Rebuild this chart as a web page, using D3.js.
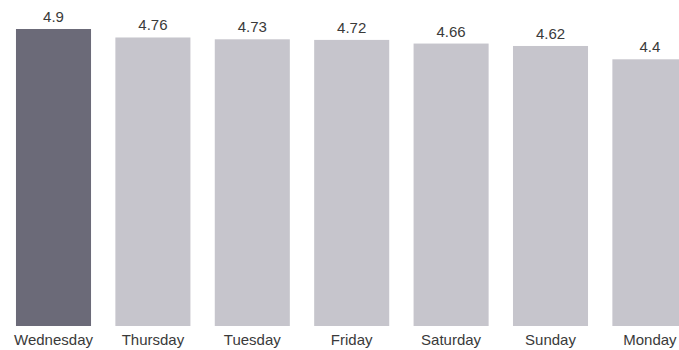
<!DOCTYPE html>
<html>
<head>
<meta charset="utf-8">
<script src="https://cdn.jsdelivr.net/npm/d3@7"></script>
<style>
  html, body { margin: 0; padding: 0; background: #fff; overflow: hidden; }
  svg { display: block; }
  text { font-family: "Liberation Sans", Arial, Helvetica, sans-serif; fill: #3a3a3a; }
</style>
</head>
<body>
<svg id="chart" width="679" height="350"></svg>
<script>
// Average rating by weekday, sorted from highest to lowest
const days = ["Wednesday", "Thursday", "Tuesday", "Friday", "Saturday", "Sunday", "Monday"];
const ratings = [4.9, 4.76, 4.73, 4.72, 4.66, 4.62, 4.4];
const highlightDay = "Wednesday";

const data = days.map((d, i) => ({ day: d, value: ratings[i] }));

const svg = d3.select("#chart");

const baseline = 326;

const x = d3.scaleBand()
  .domain(days)
  .range([3.8, 3.8 + 7 * 99.4])
  .paddingInner(0.245)
  .paddingOuter(0.1225);

const y = d3.scaleLinear()
  .domain([0, d3.max(ratings)])
  .range([baseline, 29]);

// Bars
svg.append("g")
  .selectAll("rect")
  .data(data)
  .join("rect")
  .attr("x", d => x(d.day))
  .attr("y", d => y(d.value))
  .attr("width", x.bandwidth())
  .attr("height", d => baseline - y(d.value))
  .attr("fill", d => d.day === highlightDay ? "#6b6a78" : "#c6c5cc");

// Value labels above each bar
svg.append("g")
  .selectAll("text")
  .data(data)
  .join("text")
  .attr("x", d => x(d.day) + x.bandwidth() / 2)
  .attr("y", d => y(d.value) - 7)
  .attr("text-anchor", "middle")
  .style("font-size", "15px")
  .text(d => d.value);

// Day labels along the bottom
const xAxis = d3.axisBottom(x).tickSize(0).tickPadding(0);
const axisG = svg.append("g")
  .attr("transform", `translate(0,${baseline})`)
  .call(xAxis);
axisG.select(".domain").remove();
axisG.selectAll("text")
  .attr("dy", null)
  .attr("y", 19)
  .style("font-size", "15px")
  .style("font-family", "'Liberation Sans', Arial, Helvetica, sans-serif")
  .attr("fill", "#3a3a3a");
</script>
</body>
</html>
